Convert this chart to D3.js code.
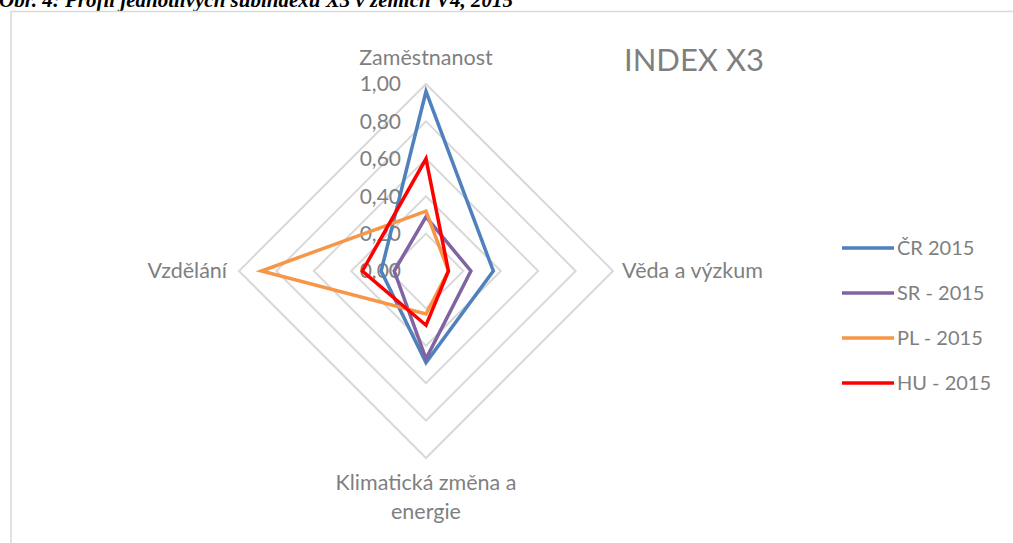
<!DOCTYPE html>
<html>
<head>
<meta charset="utf-8">
<script src="https://cdn.jsdelivr.net/npm/d3@7"></script>
<style>
  body { margin: 0; background: #fff; }
  svg { display: block; }
</style>
</head>
<body>
<div id="chart"></div>
<script>
// axes clockwise from the top
var categories = ["Zaměstnanost", "Věda a výzkum", "Klimatická změna a energie", "Vzdělání"];
var seriesNames = ["ČR 2015", "SR - 2015", "PL - 2015", "HU - 2015"];
var crValues = [0.96, 0.36, 0.49, 0.24];
var srValues = [0.29, 0.24, 0.47, 0.17];
var plValues = [0.32, 0.12, 0.23, 0.88];
var huValues = [0.60, 0.12, 0.29, 0.34];
var tickVals = [0, 0.2, 0.4, 0.6, 0.8, 1.0];
var colors = ["#4f81bd", "#8064a2", "#f79646", "#ff0000"];

var allSeries = [crValues, srValues, plValues, huValues];

var width = 1013, height = 543;
var cx = 426, cy = 271, R = 187;
var font = "Lato, 'Liberation Sans', sans-serif";

var svg = d3.select("#chart").append("svg")
  .attr("width", width)
  .attr("height", height);

// caption, cut off at the top of the window
svg.append("text")
  .attr("x", -1)
  .attr("y", 7)
  .style("font-family", "'Liberation Serif', serif")
  .style("font-size", "21px")
  .style("font-weight", "bold")
  .style("font-style", "italic")
  .text("Obr. 4: Profil jednotlivých subindexů X3 v zemích V4, 2015");

// chart frame
svg.append("rect")
  .attr("x", 11)
  .attr("y", 11.5)
  .attr("width", width)
  .attr("height", height)
  .attr("fill", "none")
  .attr("stroke", "#d9d9d9")
  .attr("stroke-width", 1.5);

var r = d3.scaleLinear().domain([0, 1]).range([0, R]);
var angle = d3.scaleBand().domain(d3.range(categories.length)).range([0, 2 * Math.PI]);

function pt(i, v) {
  var a = angle(i) - Math.PI / 2;
  return [cx + r(v) * Math.cos(a), cy + r(v) * Math.sin(a)];
}

var line = d3.line().curve(d3.curveLinearClosed);

var g = svg.append("g");

// grid rings
g.selectAll(".ring")
  .data(tickVals.filter(function(d) { return d > 0; }))
  .enter().append("path")
  .attr("class", "ring")
  .attr("d", function(t) { return line(categories.map(function(c, i) { return pt(i, t); })); })
  .attr("fill", "none")
  .attr("stroke", "#d9d9d9")
  .attr("stroke-width", 2);

// tick labels
g.selectAll(".tick")
  .data(tickVals)
  .enter().append("text")
  .attr("x", cx - 25)
  .attr("y", function(d) { return cy - r(d); })
  .attr("dy", "0.35em")
  .attr("text-anchor", "end")
  .style("font-family", font)
  .style("font-size", "21px")
  .style("fill", "#7f7f7f")
  .text(function(d) { return d3.format(".2f")(d).replace(".", ","); });

// series
g.selectAll(".series")
  .data(allSeries)
  .enter().append("path")
  .attr("class", "series")
  .attr("d", function(vals) { return line(vals.map(function(v, i) { return pt(i, v); })); })
  .attr("fill", "none")
  .attr("stroke", function(d, i) { return colors[i]; })
  .attr("stroke-width", 3.5)
  .attr("stroke-linejoin", "miter");

// category labels
var lab = { size: "21.5px", fill: "#7f7f7f" };
function catText(x, y, anchor, lines) {
  var t = svg.append("text")
    .attr("x", x).attr("y", y)
    .attr("text-anchor", anchor)
    .style("font-family", font)
    .style("font-size", lab.size)
    .style("fill", lab.fill);
  lines.forEach(function(s, k) {
    t.append("tspan").attr("x", x).attr("dy", k === 0 ? 0 : 29).text(s);
  });
}
var top0 = pt(0, 1), right0 = pt(1, 1), bot0 = pt(2, 1), left0 = pt(3, 1);
catText(top0[0], top0[1] - 19, "middle", [categories[0]]);
catText(right0[0] + 9, right0[1] + 7, "start", [categories[1]]);
catText(bot0[0], bot0[1] + 32, "middle", ["Klimatická změna a", "energie"]);
catText(left0[0] - 12, left0[1] + 7, "end", [categories[3]]);

// title
svg.append("text")
  .attr("x", 694)
  .attr("y", 71)
  .attr("text-anchor", "middle")
  .style("font-family", font)
  .style("font-size", "31px")
  .style("fill", "#7f7f7f")
  .text("INDEX X3");

// legend
var legend = svg.append("g");
var ly = d3.scalePoint().domain(seriesNames).range([248, 383]);
seriesNames.forEach(function(name, i) {
  legend.append("line")
    .attr("x1", 842).attr("x2", 894)
    .attr("y1", ly(name)).attr("y2", ly(name))
    .attr("stroke", colors[i])
    .attr("stroke-width", 3.5);
  legend.append("text")
    .attr("x", 897)
    .attr("y", ly(name))
    .attr("dy", "0.35em")
    .style("font-family", font)
    .style("font-size", "20px")
    .style("fill", "#7f7f7f")
    .text(name);
});
</script>
</body>
</html>
